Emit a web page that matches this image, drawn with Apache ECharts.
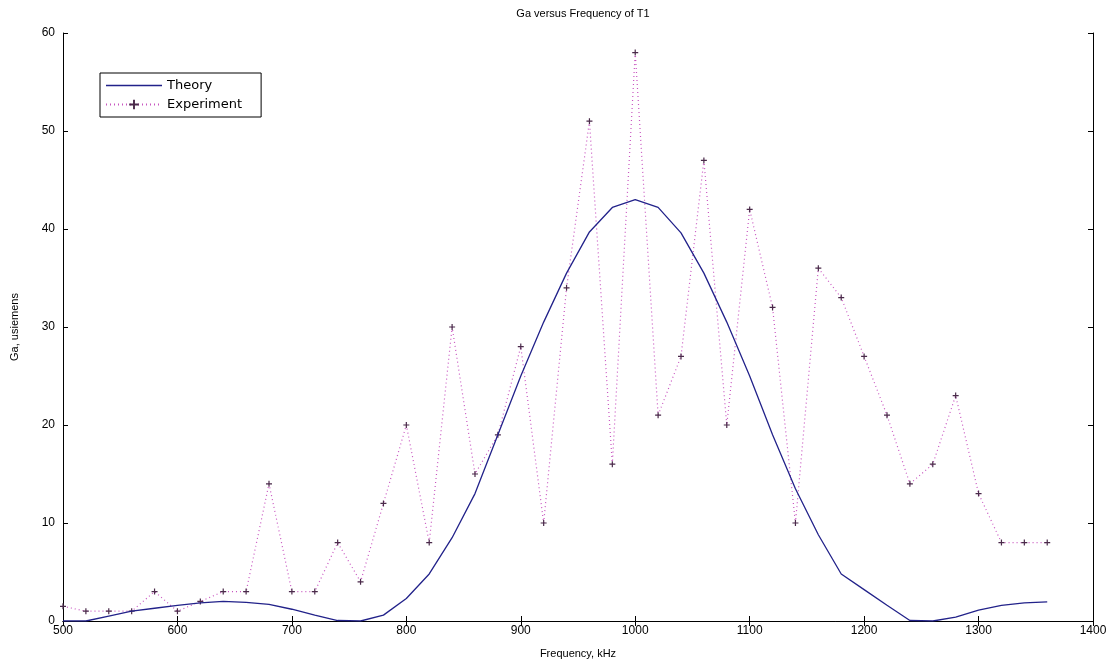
<!DOCTYPE html>
<html>
<head>
<meta charset="utf-8">
<script src="https://cdn.jsdelivr.net/npm/echarts@6/dist/echarts.min.js"></script>
<style>html,body{margin:0;padding:0;background:#fff;}#c{width:1117px;height:664px;}</style>
</head>
<body>
<div id="c"></div>
<script>
const titleText = 'Ga versus Frequency of T1';
const xAxisName = 'Frequency, kHz';
const yAxisName = 'Ga, usiemens';
const frequency = [500,520,540,560,580,600,620,640,660,680,700,720,740,760,780,800,820,840,860,880,900,920,940,960,980,1000,1020,1040,1060,1080,1100,1120,1140,1160,1180,1200,1220,1240,1260,1280,1300,1320,1340,1360];
const theory = [0,0,0.5,1.0,1.3,1.6,1.85,2.0,1.9,1.7,1.2,0.6,0.05,0,0.6,2.3,4.8,8.5,13,19,25,30.5,35.5,39.7,42.2,43,42.2,39.6,35.5,30.5,25,19,13.5,8.8,4.8,3.2,1.6,0.05,0,0.4,1.1,1.6,1.85,1.95];
const experiment = [1.5,1,1,1,3,1,2,3,3,14,3,3,8,4,12,20,8,30,15,19,28,10,34,51,16,58,21,27,47,20,42,32,10,36,33,27,21,14,16,23,13,8,8,8];

const theoryData = frequency.map((f,i)=>[f,theory[i]]);
const expData = frequency.map((f,i)=>[f,experiment[i]]);
const plus = 'path://M4,0h2v4h4v2h-4v4h-2v-4h-4v-2h4z';
const font = 'Liberation Sans, Arial, sans-serif';
const legendFont = 'DejaVu Sans, sans-serif';
const axisCommon = {
  axisLine:{show:true,lineStyle:{color:'#000',width:1}},
  axisTick:{show:true,inside:true,length:5,lineStyle:{color:'#000'}},
  splitLine:{show:false},
  axisLabel:{color:'#000',fontSize:12,fontFamily:font,formatter:v=>String(v)}
};
const chart = echarts.init(document.getElementById('c'));
chart.setOption({
  animation:false,
  backgroundColor:'#fff',
  title:{text:titleText,left:578,textAlign:'center',top:3,textStyle:{fontSize:11,fontWeight:'normal',color:'#000',fontFamily:font}},
  grid:{left:63,right:24,top:33,bottom:43},
  legend:{
    orient:'vertical',left:100,top:73,
    backgroundColor:'#fff',borderColor:'#000',borderWidth:1,
    padding:[6,19,6,5],itemGap:6,itemWidth:56,itemHeight:12,
    textStyle:{fontSize:13,color:'#000',fontFamily:legendFont},
    data:[{name:'Theory',icon:'path://M0,5.5h56v1.3h-56z'},{name:'Experiment'}]
  },
  xAxis:[
    Object.assign({},axisCommon,{type:'value',min:500,max:1400,interval:100,name:xAxisName,nameLocation:'middle',nameGap:27,nameTextStyle:{fontSize:11,color:'#000',fontFamily:font},axisLabel:Object.assign({},axisCommon.axisLabel,{margin:4})}),
    Object.assign({},axisCommon,{type:'value',position:'top',min:500,max:1400,interval:100,axisLabel:{show:false}})
  ],
  yAxis:[
    Object.assign({},axisCommon,{type:'value',min:0,max:60,interval:10,name:yAxisName,nameLocation:'middle',nameGap:43,nameTextStyle:{fontSize:11,color:'#000',fontFamily:font},axisLabel:Object.assign({},axisCommon.axisLabel,{margin:8})}),
    Object.assign({},axisCommon,{type:'value',position:'right',min:0,max:60,interval:10,axisLabel:{show:false}})
  ],
  series:[
    {name:'Theory',type:'line',data:theoryData,showSymbol:false,symbol:'none',
     lineStyle:{color:'#22228a',width:1.3},itemStyle:{color:'#22228a'},z:3},
    {name:'Experiment',type:'line',data:expData,symbol:plus,symbolSize:6,showSymbol:true,
     lineStyle:{color:'#c855c0',width:1.2,type:[1,3]},itemStyle:{color:'#4a2a4a'},z:2}
  ]
});
</script>
</body>
</html>
